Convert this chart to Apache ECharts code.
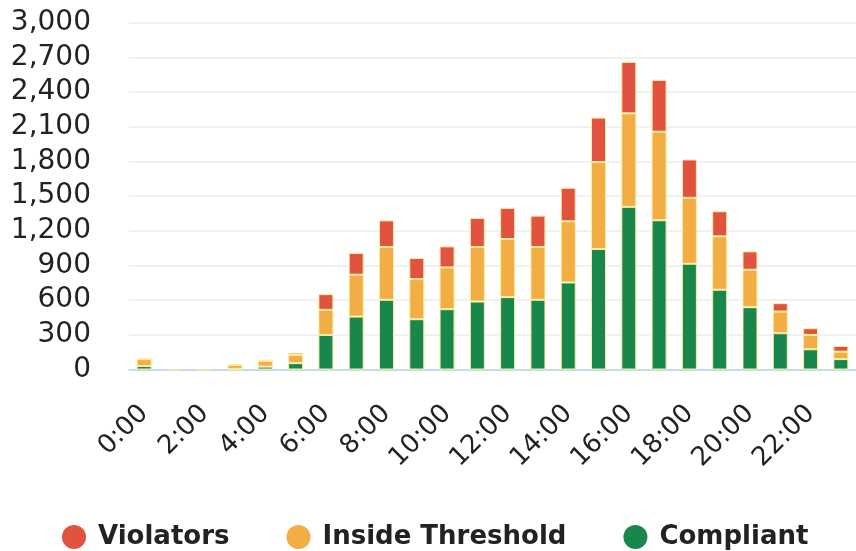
<!DOCTYPE html>
<html>
<head>
<meta charset="utf-8">
<script src="https://cdn.jsdelivr.net/npm/echarts@6/dist/echarts.min.js"></script>
<style>
html,body{margin:0;padding:0;background:#fff;}
#chart{width:856px;height:551px;}
</style>
</head>
<body>
<div id="chart"></div>
<script>
var categories = ['0:00','1:00','2:00','3:00','4:00','5:00','6:00','7:00','8:00','9:00','10:00','11:00','12:00','13:00','14:00','15:00','16:00','17:00','18:00','19:00','20:00','21:00','22:00','23:00'];
var compliant = [30,0,0,5,25,55,299,458,603,435,522,588,626,603,753,1042,1407,1291,915,690,539,314,175,90];
var insideThreshold = [60,0,0,35,50,70,217,362,457,347,361,472,503,457,529,752,809,766,570,462,324,187,124,64];
var violators = [8,0,0,5,10,20,136,188,230,182,182,251,269,271,290,385,445,448,332,217,159,73,58,50];
var yTicks = {min:0, max:3000, interval:300};

var chart = echarts.init(document.getElementById('chart'));
var sepColor = '#f7eea2';
function mk(name, data, color){
  return {
    name:name, type:'bar', stack:'total', data:data, barWidth:15,
    itemStyle:{color:color, borderColor:sepColor, borderWidth:1},
    emphasis:{disabled:true}
  };
}
var circle = 'path://M50,0A50,50,0,1,1,50,100A50,50,0,1,1,50,0Z';
chart.setOption({
  animation:false,
  backgroundColor:'#ffffff',
  grid:{left:129, right:-2, top:22.7, bottom:181.5, containLabel:false},
  legend:{
    data:[{name:'Violators',icon:circle},{name:'Inside Threshold',icon:circle},{name:'Compliant',icon:circle}],
    left:57, top:519, itemWidth:24, itemHeight:24, itemGap:57,
    itemStyle:{borderWidth:0},
    textStyle:{fontFamily:'DejaVu Sans', fontWeight:'bold', fontSize:26, color:'#222', padding:[0,0,0,7]}
  },
  xAxis:{
    type:'category', data:categories,
    axisLine:{lineStyle:{color:'#b9d5e2', width:1.5}},
    axisTick:{alignWithLabel:true, interval:1, length:23, lineStyle:{color:'#b9d5e2', width:1.5}},
    axisLabel:{interval:1, rotate:45, margin:40, fontFamily:'DejaVu Sans', fontSize:26, color:'#222'}
  },
  yAxis:{
    type:'value', min:yTicks.min, max:yTicks.max, interval:yTicks.interval,
    axisLine:{show:false}, axisTick:{show:false},
    splitLine:{lineStyle:{color:'#ececec', width:1.5}},
    axisLabel:{margin:38, fontFamily:'DejaVu Sans', fontSize:28, color:'#222', padding:[4,0,0,0],
      formatter:function(v){return v.toLocaleString('en-US');}}
  },
  series:[
    mk('Compliant', compliant, '#19874b'),
    mk('Inside Threshold', insideThreshold, '#f2ae45'),
    mk('Violators', violators, '#e2533f')
  ]
});
</script>
</body>
</html>
